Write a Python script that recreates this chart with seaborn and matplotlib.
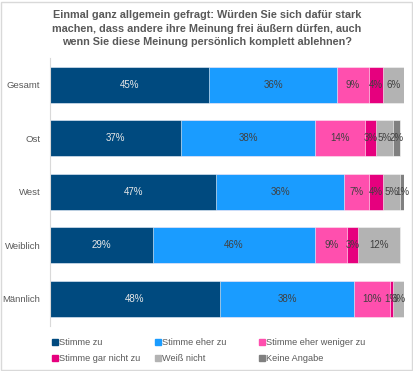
import numpy as np
import pandas as pd
import matplotlib
matplotlib.use("Agg")
import matplotlib.pyplot as plt
from matplotlib.lines import Line2D
from matplotlib.patches import Rectangle
import seaborn as sns

categories = ["Gesamt", "Ost", "West", "Weiblich", "Männlich"]
series_names = ["Stimme zu", "Stimme eher zu", "Stimme eher weniger zu",
                "Stimme gar nicht zu", "Weiß nicht", "Keine Angabe"]
stimme_zu = [45, 37, 47, 29, 48]
eher_zu = [36, 38, 36, 46, 38]
eher_weniger = [9, 14, 7, 9, 10]
gar_nicht = [4, 3, 4, 3, 1]
weiss_nicht = [6, 5, 5, 12, 3]
keine_angabe = [0, 2, 1, 0, 0]
colors = ["#004a7f", "#1a9cff", "#ff4fae", "#e6007e", "#b3b3b3", "#808080"]
label_colors = ["#e8e8e8", "#404040", "#404040", "#404040", "#404040", "#404040"]
title = ("Einmal ganz allgemein gefragt: Würden Sie sich dafür stark\n"
         "machen, dass andere ihre Meinung frei äußern dürfen, auch\n"
         "wenn Sie diese Meinung persönlich komplett ablehnen?")

sns.set_theme(style="white")
plt.rcParams["font.family"] = ["Liberation Sans", "DejaVu Sans"]

series = [stimme_zu, eher_zu, eher_weniger, gar_nicht, weiss_nicht, keine_angabe]
vals = np.array(series, dtype=float)
cum = np.cumsum(vals, axis=0)

fig = plt.figure(figsize=(4.14, 3.71), dpi=100)
W, H = 414, 371
ax = fig.add_axes([50 / W, 1 - 325.5 / H, 354 / W, 267.5 / H])

for i in reversed(range(len(series))):
    df = pd.DataFrame({"cat": categories, "val": cum[i]})
    sns.barplot(data=df, y="cat", x="val", orient="h", color=colors[i],
                width=0.68, edgecolor="white", linewidth=0.4, ax=ax,
                saturation=1)

for i in range(len(series)):
    for j, c in enumerate(categories):
        v = vals[i, j]
        if v <= 0:
            continue
        xc = cum[i, j] - v / 2
        ax.text(xc, j, f"{int(v)}%", ha="center", va="center",
                fontsize=7, color=label_colors[i])

ax.set_xlim(0, 100)
ax.set_ylim(4.5, -0.5)
ax.set_xlabel("")
ax.set_ylabel("")
ax.set_xticks([])
ax.tick_params(axis="y", length=0, pad=7, labelsize=6.8, labelcolor="#595959")
for s in ["top", "right", "bottom"]:
    ax.spines[s].set_visible(False)
ax.spines["left"].set_color("#d9d9d9")
ax.spines["left"].set_linewidth(0.8)

fig.text(0.5, 1 - 28.5 / H, title, ha="center", va="center", fontsize=7.8,
         fontweight="bold", color="#595959", linespacing=1.38)

handles = [Line2D([0], [0], marker="s", linestyle="", markersize=4,
                  markerfacecolor=colors[i], markeredgecolor=colors[i])
           for i in range(len(series))]
col_x = [52, 155, 259]
for k in range(3):
    idx = [k, k + 3]
    leg = fig.legend([handles[i] for i in idx], [series_names[i] for i in idx],
                     ncol=1, loc="upper left",
                     bbox_to_anchor=(col_x[k] / W, 1 - 338 / H), frameon=False,
                     fontsize=6.6, handlelength=0.6, handletextpad=0.2,
                     labelspacing=0.75, borderaxespad=0, borderpad=0)
    for t in leg.get_texts():
        t.set_color("#595959")

fig.patches.append(Rectangle((1 / W, 1 / H), 1 - 3 / W, 1 - 3 / H,
                             transform=fig.transFigure, fill=False,
                             edgecolor="#d9d9d9", linewidth=1))

fig.savefig("out.png", dpi=100)
